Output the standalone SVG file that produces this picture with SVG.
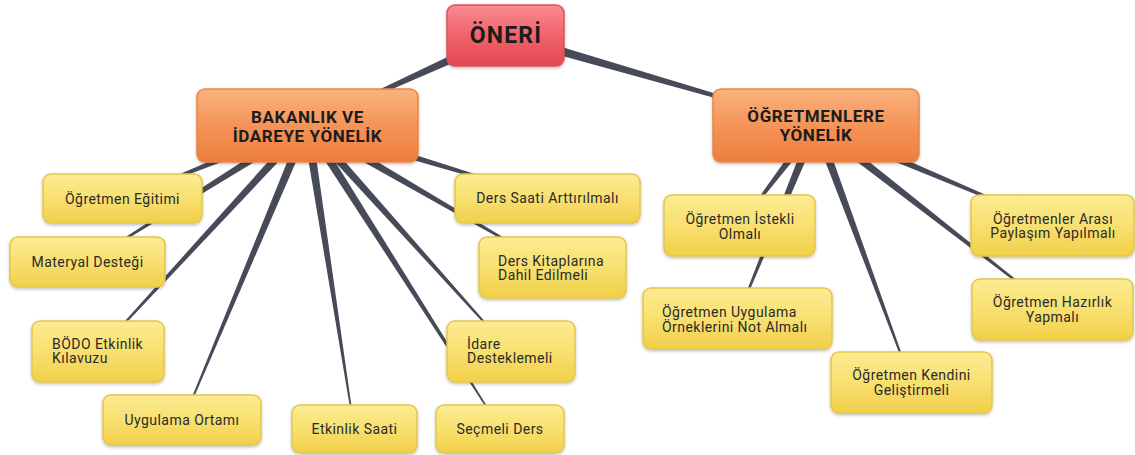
<svg xmlns="http://www.w3.org/2000/svg" width="1135" height="455" viewBox="0 0 1135 455">
<defs>
<linearGradient id="gRed" x1="0" y1="0" x2="0" y2="1">
<stop offset="0" stop-color="#f98a91"/><stop offset="0.5" stop-color="#f0636b"/><stop offset="1" stop-color="#e2474f"/>
</linearGradient>
<linearGradient id="gOrange" x1="0" y1="0" x2="0" y2="1">
<stop offset="0" stop-color="#fbb27d"/><stop offset="0.5" stop-color="#f59458"/><stop offset="1" stop-color="#ec7d3d"/>
</linearGradient>
<linearGradient id="gYellow" x1="0" y1="0" x2="0" y2="1">
<stop offset="0" stop-color="#fcec92"/><stop offset="0.5" stop-color="#f8e070"/><stop offset="1" stop-color="#f1cf49"/>
</linearGradient>
<filter id="sh" x="-10%" y="-10%" width="120%" height="130%">
<feDropShadow dx="0" dy="1.5" stdDeviation="1.5" flood-color="#000" flood-opacity="0.25"/>
</filter>
<style>
.red{fill:url(#gRed);stroke:#d8545b;stroke-width:1.5;filter:url(#sh)}
.org{fill:url(#gOrange);stroke:#e5874a;stroke-width:1.5;filter:url(#sh)}
.yel{fill:url(#gYellow);stroke:#e3c64c;stroke-width:1.5;filter:url(#sh)}
.hd{font-family:Roboto,"Liberation Sans",sans-serif;font-weight:700;fill:#1c1c1c;text-anchor:middle}
.h2{font-size:17px;letter-spacing:0.6px}
.lf{font-family:Roboto,"Liberation Sans",sans-serif;font-size:14px;letter-spacing:0.45px;fill:#2a2a2a}
.c{text-anchor:middle}
.conn polygon{fill:#474b59}
</style>
</defs>
<rect width="1135" height="455" fill="#ffffff"/>
<g id="connectors" class="conn">
<polygon points="502.9,30.4 306.7,124.3 307.3,125.7 507.1,39.6"/>
<polygon points="503.6,39.8 815.8,125.8 816.2,124.2 506.4,30.2"/>
<polygon points="305.3,120.8 121.8,198.4 122.2,199.6 308.7,129.2"/>
<polygon points="304.6,121.2 87.7,261.5 88.3,262.5 309.4,128.8"/>
<polygon points="303.7,122.0 97.6,351.6 98.4,352.4 310.3,128.0"/>
<polygon points="302.8,123.3 182.4,420.8 183.6,421.2 311.2,126.7"/>
<polygon points="302.6,125.7 353.4,428.1 354.6,427.9 311.4,124.3"/>
<polygon points="303.2,127.4 499.5,428.3 500.5,427.7 310.8,122.6"/>
<polygon points="303.7,128.0 509.6,351.4 510.4,350.6 310.3,122.0"/>
<polygon points="304.7,128.9 551.7,267.5 552.3,266.5 309.3,121.1"/>
<polygon points="305.7,129.3 547.8,198.6 548.2,197.4 308.3,120.7"/>
<polygon points="812.4,122.3 739.5,224.6 740.5,225.4 819.6,127.7"/>
<polygon points="811.8,123.3 736.4,317.8 737.6,318.2 820.2,126.7"/>
<polygon points="811.8,126.6 910.4,382.2 911.6,381.8 820.2,123.4"/>
<polygon points="813.2,128.5 1051.6,309.5 1052.4,308.5 818.8,121.5"/>
<polygon points="814.3,129.1 1052.8,225.6 1053.2,224.4 817.7,120.9"/>
</g>
<g id="n-oneri"><rect class="red" x="447" y="5" width="117" height="61" rx="8"/><text class="hd" x="506" y="42.5" font-size="23" letter-spacing="1.2">ÖNERİ</text></g>
<g id="n-bakanlik"><rect class="org" x="197" y="89" width="221" height="73" rx="8"/><text class="hd h2" x="307.5" y="123">BAKANLIK VE</text><text class="hd h2" x="307.5" y="142">İDAREYE YÖNELİK</text></g>
<g id="n-ogretmenlere"><rect class="org" x="713" y="89" width="206" height="73" rx="8"/><text class="hd h2" x="816" y="122">ÖĞRETMENLERE</text><text class="hd h2" x="816" y="141">YÖNELİK</text></g>
<g id="n-egitim"><rect class="yel" x="43" y="174" width="159" height="49" rx="8"/><text class="lf c" x="122.5" y="204">Öğretmen Eğitimi</text></g>
<g id="n-materyal"><rect class="yel" x="10" y="237" width="155" height="50" rx="8"/><text class="lf c" x="87.5" y="267">Materyal Desteği</text></g>
<g id="n-bodo"><rect class="yel" x="32" y="321" width="132" height="61" rx="8"/><text class="lf" x="52" y="348.5">BÖDO Etkinlik</text><text class="lf" x="52" y="363">Kılavuzu</text></g>
<g id="n-uygulama"><rect class="yel" x="103" y="395" width="158" height="50" rx="8"/><text class="lf c" x="182" y="425">Uygulama Ortamı</text></g>
<g id="n-etkinlik"><rect class="yel" x="292" y="405" width="125" height="48" rx="8"/><text class="lf c" x="354.5" y="434">Etkinlik Saati</text></g>
<g id="n-secmeli"><rect class="yel" x="436" y="405" width="128" height="48" rx="8"/><text class="lf c" x="500" y="434">Seçmeli Ders</text></g>
<g id="n-idare"><rect class="yel" x="447" y="321" width="128" height="61" rx="8"/><text class="lf" x="467" y="348.5">İdare</text><text class="lf" x="467" y="363">Desteklemeli</text></g>
<g id="n-derssaati"><rect class="yel" x="455" y="174" width="185" height="49" rx="8"/><text class="lf c" x="547.5" y="203">Ders Saati Arttırılmalı</text></g>
<g id="n-kitap"><rect class="yel" x="479" y="237" width="147" height="61" rx="8"/><text class="lf" x="498" y="265.5">Ders Kitaplarına</text><text class="lf" x="498" y="280">Dahil Edilmeli</text></g>
<g id="n-istekli"><rect class="yel" x="664" y="195" width="151" height="61" rx="8"/><text class="lf c" x="740" y="224">Öğretmen İstekli</text><text class="lf c" x="740" y="238.5">Olmalı</text></g>
<g id="n-ornek"><rect class="yel" x="643" y="288" width="189" height="61" rx="8"/><text class="lf" x="662" y="317">Öğretmen Uygulama</text><text class="lf" x="662" y="331.5">Örneklerini Not Almalı</text></g>
<g id="n-kendini"><rect class="yel" x="831" y="352" width="161" height="61" rx="8"/><text class="lf c" x="911.5" y="380">Öğretmen Kendini</text><text class="lf c" x="911.5" y="394.5">Geliştirmeli</text></g>
<g id="n-arasi"><rect class="yel" x="971" y="195" width="163" height="61" rx="8"/><text class="lf c" x="1053" y="223.5">Öğretmenler Arası</text><text class="lf c" x="1053" y="238">Paylaşım Yapılmalı</text></g>
<g id="n-hazirlik"><rect class="yel" x="972" y="279" width="161" height="61" rx="8"/><text class="lf c" x="1052.5" y="307">Öğretmen Hazırlık</text><text class="lf c" x="1052.5" y="321.5">Yapmalı</text></g>
</svg>
